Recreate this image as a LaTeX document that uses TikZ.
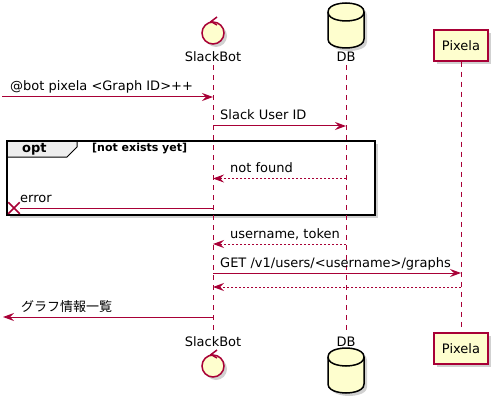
\documentclass[tikz,border=0pt]{standalone}
\usepackage{fontspec}
\setmainfont{DejaVu Sans}
\newfontfamily\jpfont{Noto Sans CJK JP}
\usetikzlibrary{arrows.meta,shadows,shapes.misc}
\definecolor{umlred}{HTML}{A80036}
\definecolor{umlfill}{HTML}{FEFECE}
\definecolor{grpfill}{HTML}{EEEEEE}

\begin{document}
\begin{tikzpicture}[
    x=1pt, y=-1pt,
    font=\fontsize{13}{15}\selectfont,
    % participants
    shad/.style={drop shadow={shadow xshift=3pt, shadow yshift=-3pt, opacity=0.3, fill=black!60}},
    ctrl/.style={circle, draw=umlred, line width=1.5pt, fill=umlfill, minimum size=22pt, inner sep=0pt, shad},
    ctrlhead/.style={draw=umlred, line width=1.5pt},
    dbcyl/.style={draw=black, line width=1.5pt, fill=umlfill, shad},
    dbrim/.style={draw=black, line width=1.5pt},
    pbox/.style={rectangle, draw=umlred, line width=1.5pt, fill=umlfill,
        minimum width=54pt, minimum height=31pt, inner sep=0pt, shad},
    plbl/.style={inner sep=3pt, anchor=base},
    life/.style={draw=umlred, line width=1pt, dash pattern=on 5pt off 5pt},
    % messages
    msg/.style={draw=umlred, line width=1pt, -{Stealth[length=11pt, width=8pt, inset=4pt]}},
    ret/.style={msg, dash pattern=on 2pt off 2pt},
    lostmsg/.style={draw=umlred, line width=1pt},
    lostx/.style={cross out, draw=umlred, line width=1.5pt, minimum size=10pt, inner sep=0pt},
    mtxt/.style={inner sep=0pt, anchor=base west},
    % group frame
    grp/.style={draw=black, line width=1.5pt, fill=white, shad},
    grptab/.style={draw=black, line width=1pt, fill=grpfill},
]
\useasboundingbox (0,0) rectangle (497,406);

% =========================================================
% Participants: heads
% =========================================================
% SlackBot (control)
\node[ctrl] (botIconT) at (213,33) {};
\draw[ctrlhead] (217,17) -- (211,21.5) -- (217,25);
\node[plbl] (botT) at (213,62) {SlackBot};

% DB (database)
\draw[dbcyl] (328,12) .. controls (328,3) and (346,3) .. (346,3)
    .. controls (346,3) and (364,3) .. (364,12) -- (364,39)
    .. controls (364,48) and (346,48) .. (346,48)
    .. controls (346,48) and (328,48) .. (328,39) -- cycle;
\draw[dbrim] (328,12) .. controls (328,21) and (346,21) .. (346,21)
    .. controls (346,21) and (364,21) .. (364,12);
\node[plbl] (dbT) at (346,62) {DB};

% Pixela
\node[pbox] (pxT) at (461,45.5) {Pixela};

% =========================================================
% Participants: feet
% =========================================================
\node[plbl] (botB) at (213,346) {SlackBot};
\node[ctrl] (botIconB) at (213,366) {};
\draw[ctrlhead] (217,350) -- (211,354.5) -- (217,358);

\node[plbl] (dbB) at (346,346) {DB};
\begin{scope}[shift={(0,345)}]
\draw[dbcyl] (328,12) .. controls (328,3) and (346,3) .. (346,3)
    .. controls (346,3) and (364,3) .. (364,12) -- (364,39)
    .. controls (364,48) and (346,48) .. (346,48)
    .. controls (346,48) and (328,48) .. (328,39) -- cycle;
\draw[dbrim] (328,12) .. controls (328,21) and (346,21) .. (346,21)
    .. controls (346,21) and (364,21) .. (364,12);
\end{scope}

\node[pbox] (pxB) at (461,348.5) {Pixela};

% =========================================================
% opt frame
% =========================================================
\draw[grp] (7,141) rectangle (375,215);
\draw[grptab] (7,141) -- (77,141) -- (77,147) -- (67,157) -- (7,157) -- cycle;
\draw[black, line width=1.5pt] (7,141) rectangle (375,215);
\node[mtxt, font=\fontsize{13}{15}\selectfont\bfseries] (optL) at (22,153) {opt};
\node[mtxt, font=\fontsize{11}{13}\selectfont\bfseries] (optC) at (92,152) {[not exists yet]};

% =========================================================
% Lifelines
% =========================================================
\draw[life] (botT.south) -- (botB.north);
\draw[life] (dbT.south) -- (dbB.north);
\draw[life] (pxT.south) -- (pxB.north);

% =========================================================
% Messages
% =========================================================
% rows
\coordinate (r1) at (2,97);
\coordinate (r2) at (0,126);
\coordinate (r3) at (0,178.5);
\coordinate (r5) at (0,244);
\coordinate (r6) at (0,273);
\coordinate (r7) at (0,287);
\coordinate (r8) at (3,317);

\draw[msg] (r1) -- (botT |- r1);
\node[mtxt] (t1) at (10,91) {@bot pixela <Graph ID>++};

\draw[msg] (botT |- r2) -- (dbT |- r2);
\node[mtxt] (t2) at (220,120) {Slack User ID};

\draw[ret] (dbT |- r3) -- (botT |- r3);
\node[mtxt] (t3) at (230,172.5) {not found};

\node[lostx] (lost) at (14,208) {};
\draw[lostmsg] (botT |- lost) -- (lost);
\node[mtxt] (t4) at (20,202) {error};

\draw[ret] (dbT |- r5) -- (botT |- r5);
\node[mtxt] (t5) at (230,238) {username, token};

\draw[msg] (botT |- r6) -- (pxT |- r6);
\node[mtxt] (t6) at (220,267) {GET /v1/users/<username>/graphs};

\draw[ret] (pxT |- r7) -- (botT |- r7);

\draw[msg] (botT |- r8) -- (r8);
\node[mtxt, font=\fontsize{13}{15}\jpfont] (t8) at (21,311) {グラフ情報一覧};

\end{tikzpicture}
\end{document}
